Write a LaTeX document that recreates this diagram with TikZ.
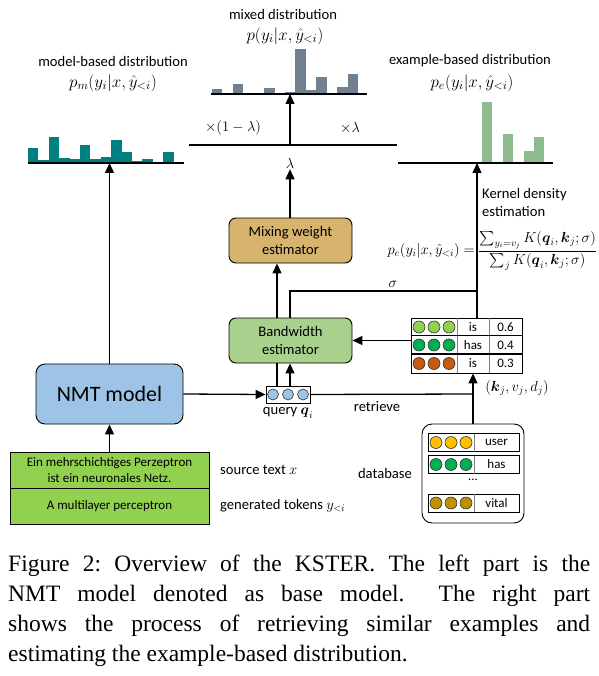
\documentclass[tikz,border=0pt]{standalone}
\RequirePackage{fix-cm}
\usepackage{amsmath}
\usepackage[no-math]{fontspec}
\setmainfont{Carlito}
\newfontfamily\capfont{Liberation Serif}
\usepackage{tikz}
\usetikzlibrary{arrows.meta, positioning, calc}
\usepackage{xcolor}
\definecolor{nmtblue}{HTML}{9DC3E6}
\definecolor{bwgreen}{HTML}{A9D18E}
\definecolor{mixtan}{HTML}{D6B46E}
\definecolor{srcgreen}{HTML}{92D050}
\definecolor{tealbar}{HTML}{008080}
\definecolor{slatebar}{HTML}{708090}
\definecolor{sagebar}{HTML}{8FBC8F}
\definecolor{dotlime}{HTML}{92D050}
\definecolor{dotgreen}{HTML}{00B050}
\definecolor{dotrust}{HTML}{C55A11}
\definecolor{dotgold}{HTML}{FFC000}
\definecolor{dotbrown}{HTML}{BF9000}
\newcommand{\mainsz}{\fontsize{14.6}{18}\selectfont}
\newcommand{\smallsz}{\fontsize{13}{16}\selectfont}
\newcommand{\bigsz}{\fontsize{22}{26}\selectfont}
\newcommand{\mathsz}{\fontsize{17}{20}\selectfont}
\newcommand{\capsz}{\fontsize{23.5}{30}\selectfont}
\tikzset{
    estimator/.style={
        rectangle, rounded corners=7pt, minimum width=123pt, minimum height=45pt,
        align=center, draw=black, line width=0.9pt, font=\mainsz, inner sep=0pt
    },
    nmtbox/.style={
        rectangle, rounded corners=9pt, minimum width=147pt, minimum height=60pt,
        draw=black, line width=0.9pt, fill=nmtblue, font=\bigsz
    },
    srcbox/.style={
        rectangle, minimum width=199pt, minimum height=36pt, align=center,
        draw=black, line width=0.9pt, fill=srcgreen, font=\smallsz,
        inner sep=0pt, outer sep=0pt
    },
    txt/.style={font=\mainsz, inner sep=1pt},
    formula/.style={font=\mathsz, inner sep=0pt},
    celltxt/.style={font=\smallsz, inner sep=0pt},
    dot/.style={circle, draw=black!80, line width=0.6pt, minimum size=12pt, inner sep=0pt},
    arrow/.style={-{Triangle[length=10pt, width=9pt]}, line width=1.3pt},
    link/.style={line width=1.3pt},
    axis/.style={line width=1.3pt}
}

\begin{document}
\begin{tikzpicture}[x=1pt, y=-1pt]
    \useasboundingbox (0,0) rectangle (598,676);

    % distributions
    \foreach \h [count=\i from 0] in {15,3,26,5,4,18,4,6,23,11,2,4,1,11,1}
        \fill[tealbar] (28+10.4*\i,163) rectangle ++(10.4,-\h);
    \foreach \h [count=\i from 0] in {5,0,10,0,0,6,0,2,45,4,17,0,7,20}
        \fill[slatebar] (212+10.43*\i,94) rectangle ++(10.43,-\h);
    \foreach \h [count=\i from 0] in {61,0,29,0,12,26}
        \fill[sagebar] (482+10.4*\i,163) rectangle ++(10.4,-\h);

    \coordinate (mL) at (28,163);   \coordinate (mR) at (184,163);
    \coordinate (xL) at (211,94);   \coordinate (xR) at (367,94);
    \coordinate (eL) at (398,163);  \coordinate (eR) at (553,163);
    \coordinate (lamL) at (189,145); \coordinate (lamR) at (397,145);
    \draw[axis] (mL) -- (mR);
    \draw[axis] (xL) -- (xR);
    \draw[axis] (eL) -- (eR);
    \draw[axis] (lamL) -- (lamR);

    \node[txt] (mtitle)  at (113,61) {model-based distribution};
    \node[formula] (mform)   at (113,83) {$p_m(y_i|x,\hat{y}_{<i})$};
    \node[txt] (xtitle)  at (283,14) {mixed distribution};
    \node[formula] (xform)   at (285,36) {$p(y_i|x,\hat{y}_{<i})$};
    \node[txt] (etitle)  at (470,61) {example-based distribution};
    \node[formula] (eform)   at (472,83) {$p_e(y_i|x,\hat{y}_{<i})$};
    \node[txt] (wleft)   at (233,128) {$\times(1-\lambda)$};
    \node[txt] (wright)  at (350,128) {$\times\lambda$};
    \node[txt] (lam)     at (290,163) {$\lambda$};

    % model side
    \node[nmtbox] (nmt) at (109.5,394) {NMT model};
    \node[srcbox] (src) at (109.5,470) {Ein mehrschichtiges Perzeptron\\ist ein neuronales Netz.};
    \node[srcbox, below=0pt of src] (tgt) {A multilayer perceptron};
    \node[txt, anchor=west] (srclab) at (219,470) {source text $x$};
    \node[txt, anchor=west] (tgtlab) at (219,506) {generated tokens $y_{<i}$};

    % estimators and query
    \node[estimator, fill=mixtan] (mix) at (290.5,240.5) {Mixing weight\\estimator};
    \node[estimator, fill=bwgreen] (bw) at (290.5,340.5) {Bandwidth\\estimator};
    \node[draw, line width=0.9pt, fill=white, minimum width=44pt, minimum height=17pt, inner sep=0pt] (query) at (288,394.5) {};
    \foreach \dx [count=\k] in {-15,0,15}
        \node[dot, minimum size=11pt, fill=nmtblue] (qd\k) at ([xshift=\dx pt]query.center) {};
    \node[txt] (qlab) at (288,413) {query $\boldsymbol{q}_i$};
    \coordinate (qa) at (277,0);
    \coordinate (qb) at (290,0);

    % retrieved examples
    \node[draw, line width=0.9pt, minimum width=111pt, minimum height=55pt, inner sep=0pt] (tab) at (466.5,345.5) {};
    \draw[black!50, line width=1pt] (457,318) -- (457,373);
    \draw[black!50, line width=1pt] (489,318) -- (489,373);
    \draw[line width=0.9pt] (411,335.7) -- (522,335.7);
    \draw[line width=1.6pt] (411,354) -- (522,354);
    \foreach \y/\c/\w/\v [count=\r] in {327/dotlime/is/0.6, 345/dotgreen/has/0.4, 363.5/dotrust/is/0.3} {
        \foreach \cx [count=\k] in {419,434,449}
            \node[dot, fill=\c] (td\r-\k) at (\cx,\y) {};
        \node[celltxt] (tw\r) at (473,\y) {\w};
        \node[celltxt] (tv\r) at (505.5,\y) {\v};
    }
    \node[txt] (kvd) at (517,388) {$(\boldsymbol{k}_j, v_j, d_j)$};

    % database
    \node[draw, rounded corners=10pt, line width=0.9pt, minimum width=102pt, minimum height=99pt, inner sep=0pt] (db) at (473,473.5) {};
    \foreach \y/\c/\w [count=\r] in {442.5/dotgold/user, 464.5/dotgreen/has, 503/dotbrown/vital} {
        \node[draw, line width=0.9pt, minimum width=91pt, minimum height=18pt, inner sep=0pt] (dbr\r) at (473.5,\y) {};
        \draw[black!50, line width=0.9pt] (474,\y-9) -- (474,\y+9);
        \foreach \cx [count=\k] in {436,451,466}
            \node[dot, fill=\c] (dd\r-\k) at (\cx,\y) {};
        \node[celltxt] (dw\r) at (496.5,\y) {\w};
    }
    \node[celltxt] (dbdots) at (473,480) {...};
    \node[txt] (dblab) at (385,473) {database};

    % kernel density estimation
    \coordinate (ebase) at (477,163);
    \coordinate (sigj) at (477,291);
    \coordinate (rj) at (473,394);
    \node[txt, anchor=west, align=left] (kde) at (481,202) {Kernel density\\estimation};
    \node[formula, anchor=east, font=\mainsz] (pelhs) at (475,251) {$p_e(y_i|x,\hat{y}_{<i}) =$};
    \node[formula, anchor=west, font=\mainsz] (perhs) at (478,251)
        {$\dfrac{\sum_{y_i=v_j} K(\boldsymbol{q}_i,\boldsymbol{k}_j;\sigma)}{\sum_j K(\boldsymbol{q}_i,\boldsymbol{k}_j;\sigma)}$};
    \node[txt] (siglab) at (393,284) {$\sigma$};
    \node[txt] (ret) at (377,407) {retrieve};

    % connectors
    \draw[arrow] (src.north) -- (nmt.south);
    \draw[arrow] (nmt.north) -- (nmt.north |- mL);
    \draw[arrow] (nmt.east) -- (query.west);
    \draw[link] (query.north -| qa) -- (bw.south -| qa);
    \draw[arrow] (query.north -| qb) -- (bw.south -| qb);
    \draw[arrow] (bw.north -| qa) -- (mix.south -| qa);
    \draw[link] (bw.north -| qb) |- (sigj);
    \draw[arrow] (mix.north -| qb) -- (lam.south);
    \draw[arrow] (lam.north |- lamL) -- (lam.north |- xL);
    \draw[arrow] (tab.west |- bw.east) -- (bw.east);
    \draw[arrow] (tab.north -| ebase) -- (ebase);
    \draw[link] (query.east) -- (rj);
    \draw[arrow] (db.north) -- (db.north |- tab.south);

    % caption
    \node[anchor=north west, text width=582pt, align=justify, inner sep=0pt, font=\capfont\capsz\frenchspacing] (cap) at (8,555)
        {Figure 2: Overview of the KSTER. The left part is the\linebreak
         NMT model denoted as base model. \ The right part\linebreak
         shows the process of retrieving similar examples and\linebreak
         estimating the example-based distribution.};
\end{tikzpicture}
\end{document}
